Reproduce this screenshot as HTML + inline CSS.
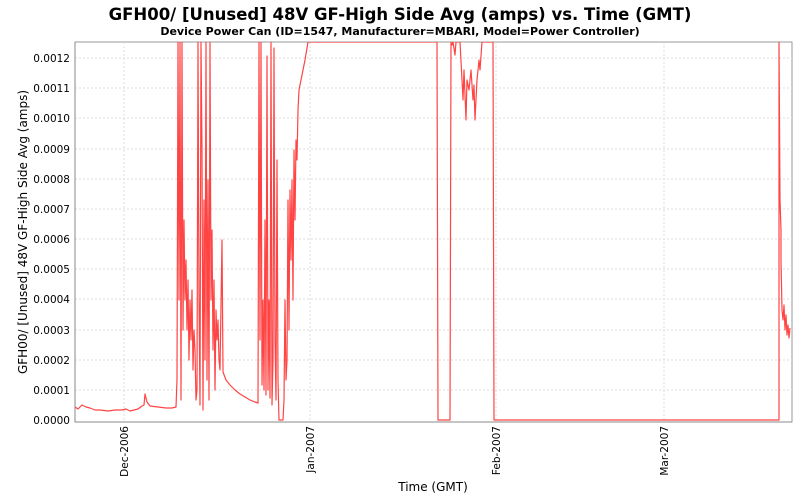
<!DOCTYPE html>
<html><head><style>
body{margin:0;background:#fff;}
svg{display:block;font-family:"Liberation Sans","DejaVu Sans",sans-serif;}
</style></head><body>
<svg width="800" height="500" viewBox="0 0 800 500">
<rect width="800" height="500" fill="#fff"/>
<text x="400" y="20" text-anchor="middle" font-size="16.5" font-weight="bold" font-family="DejaVu Sans, sans-serif">GFH00/ [Unused] 48V GF-High Side Avg (amps) vs. Time (GMT)</text>
<text x="400" y="35" text-anchor="middle" font-size="11" font-weight="bold" font-family="DejaVu Sans, sans-serif">Device Power Can (ID=1547, Manufacturer=MBARI, Model=Power Controller)</text>
<rect x="75" y="42" width="717" height="380" fill="#fff" stroke="#999"/>
<g stroke="#ddd" stroke-dasharray="2,2" stroke-width="1">
<line x1="75" x2="792" y1="390" y2="390"/><line x1="75" x2="792" y1="360" y2="360"/>
<line x1="75" x2="792" y1="330" y2="330"/><line x1="75" x2="792" y1="299" y2="299"/>
<line x1="75" x2="792" y1="269" y2="269"/><line x1="75" x2="792" y1="239" y2="239"/>
<line x1="75" x2="792" y1="209" y2="209"/><line x1="75" x2="792" y1="179" y2="179"/>
<line x1="75" x2="792" y1="149" y2="149"/><line x1="75" x2="792" y1="118" y2="118"/>
<line x1="75" x2="792" y1="88" y2="88"/><line x1="75" x2="792" y1="58" y2="58"/>
<line x1="124" x2="124" y1="42" y2="422"/><line x1="310" x2="310" y1="42" y2="422"/>
<line x1="496" x2="496" y1="42" y2="422"/><line x1="664" x2="664" y1="42" y2="422"/>
</g>
<line x1="75" x2="792" y1="422" y2="422" stroke="#888"/>
<line x1="75" x2="75" y1="42" y2="422" stroke="#888"/>
<g font-size="10.5" text-anchor="end" font-family="DejaVu Sans, sans-serif">
<text x="70" y="424">0.0000</text><text x="70" y="394">0.0001</text><text x="70" y="364">0.0002</text>
<text x="70" y="334">0.0003</text><text x="70" y="303">0.0004</text><text x="70" y="273">0.0005</text>
<text x="70" y="243">0.0006</text><text x="70" y="213">0.0007</text><text x="70" y="183">0.0008</text>
<text x="70" y="153">0.0009</text><text x="70" y="122">0.0010</text><text x="70" y="92">0.0011</text>
<text x="70" y="62">0.0012</text>
</g>
<g font-size="10.5" text-anchor="end" font-family="DejaVu Sans, sans-serif">
<text transform="translate(128,426) rotate(-90)">Dec-2006</text>
<text transform="translate(314,426) rotate(-90)">Jan-2007</text>
<text transform="translate(500,426) rotate(-90)">Feb-2007</text>
<text transform="translate(668,426) rotate(-90)">Mar-2007</text>
</g>
<text x="433" y="491" text-anchor="middle" font-size="12" font-family="DejaVu Sans, sans-serif">Time (GMT)</text>
<text transform="translate(27,232) rotate(-90)" text-anchor="middle" font-size="12" font-family="DejaVu Sans, sans-serif">GFH00/ [Unused] 48V GF-High Side Avg (amps)</text>
<svg x="75" y="42" width="717" height="380" viewBox="75 42 717 380">
<polyline fill="none" stroke="#f44" stroke-width="1.2" stroke-linejoin="round" points="
75,407 78,409 82,405 86,407 90,408 95,410 100,410 108,411 115,410 122,410 126,409 130,411 134,410 138,409 142,406 144,405 145,394 147,402 150,406 158,407 166,408 172,408 176,407 177,380 178,42 179,300 180,42 181,400 182,42 183,330 184,220 185,300 186,260 187,330 188,280 189,360 190,300 191,340 192,290 193,370 194,330 195,350 196,400 197,390 198,42 199,300 200,405 201,42 202,150 203,410 204,200 205,360 206,42 207,380 208,180 209,400 210,42 211,300 212,230 213,350 214,280 215,390 216,310 217,340 218,320 219,360 220,370 222,240 223,372 226,380 230,385 235,390 240,394 245,397 250,400 255,402 258,403 259,42 260,340 261,42 262,385 263,300 264,390 265,220 266,395 267,56 268,390 269,300 270,398 271,42 272,405 273,360 274,48 275,340 276,400 277,160 278,380 279,420 282,420 283,420 284,400 285,300 286,380 287,360 288,200 289,330 290,190 291,260 292,180 293,300 294,150 295,220 296,140 297,160 298,110 299,90 301,80 303,70 305,60 308,42 437,42 438,420 450,420 451,42 452,45 453,42 455,55 456,42 460,42 462,80 463,100 464,70 466,120 467,80 469,90 471,70 473,100 474,85 475,120 477,80 479,60 480,70 482,42 493,42 494,420 779,420 779,42 780,200 781,230 781,260 782,310 783,320 784,305 785,330 786,315 787,335 788,325 789,338 790,328"/>
</svg>
</svg>
</body></html>
